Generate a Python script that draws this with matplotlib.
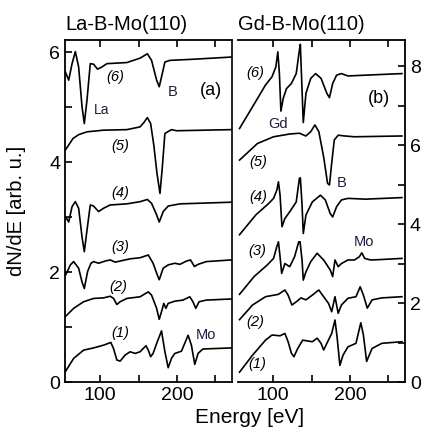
import matplotlib.pyplot as plt
from matplotlib.ticker import MultipleLocator

# La-B-Mo(110), curves (1)..(6): energy [eV], dN/dE [arb. u.]
la1_e = [54.5, 65.3, 78.3, 91.3, 104.3, 113.8, 117.3, 121.7, 126, 132.5, 139, 145.5, 152, 159.7,
         162.7, 165.8, 169, 174.4, 180, 184.4, 188.7, 193, 197.4, 206, 214.7, 219, 223.4, 227.7, 234, 271]
la1_y = [0.19, 0.43, 0.58, 0.62, 0.67, 0.72, 0.61, 0.40, 0.38, 0.49, 0.55, 0.52, 0.55, 0.66,
         0.58, 0.46, 0.52, 0.73, 0.93, 0.55, 0.26, 0.43, 0.52, 0.56, 0.85, 0.67, 0.32, 0.52, 0.60, 0.62]
la2_e = [54.5, 65.3, 78.3, 91.3, 104.3, 113, 117.3, 121.7, 126, 134.7, 152, 162.7, 167, 173.6, 177,
         180, 183, 185.7, 188.7, 197.4, 208, 216.9, 221, 224.7, 229, 238.5, 271]
la2_y = [1.19, 1.34, 1.46, 1.52, 1.53, 1.56, 1.52, 1.41, 1.46, 1.52, 1.55, 1.64, 1.58, 1.34, 1.14,
         1.28, 1.43, 1.34, 1.43, 1.47, 1.49, 1.55, 1.46, 1.34, 1.46, 1.49, 1.51]
la3_e = [55, 61, 65.3, 71.8, 76.2, 79.2, 83.5, 87.9, 91.3, 97.8, 106.5, 113, 119.5, 126, 139, 152,
         162.7, 169, 174.4, 177, 182.2, 188.7, 197.4, 204, 212.6, 217.8, 223, 227.7, 238.5, 271]
la3_y = [1.95, 2.13, 2.19, 2.07, 1.82, 1.70, 2.01, 2.16, 2.19, 2.16, 2.20, 2.22, 2.18, 2.20, 2.24, 2.26,
         2.31, 2.16, 1.95, 1.86, 2.07, 2.13, 2.16, 2.14, 2.20, 2.22, 2.10, 2.14, 2.19, 2.22]
la4_e = [55.8, 58.8, 63.2, 67.5, 71.8, 76.2, 79.2, 82.7, 87, 91.3, 97.8, 104.3, 113, 134.7, 152,
         161.5, 167, 173.6, 177, 182.2, 188.7, 204, 271]
la4_y = [2.98, 2.91, 3.19, 3.28, 3.16, 2.64, 2.37, 2.76, 3.22, 3.20, 3.10, 3.16, 3.22, 3.24, 3.28,
         3.32, 3.25, 3.04, 2.91, 3.10, 3.20, 3.24, 3.27]
la5_e = [54.5, 64.5, 72, 82.7, 104, 134.7, 152, 157, 161.5, 165.8, 170, 174, 178, 181, 184.4,
         193, 199.6, 271]
la5_y = [4.22, 4.43, 4.50, 4.55, 4.58, 4.59, 4.64, 4.72, 4.81, 4.70, 4.30, 3.80, 3.43, 3.90, 4.52,
         4.59, 4.57, 4.59]
la6_e = [54.5, 58.8, 63.2, 67.5, 71.8, 76.2, 79.2, 82.7, 87, 91.3, 96.5, 102.2, 108.7, 134.7, 152,
         161.5, 167, 173.6, 177, 180, 184.4, 191, 221, 271]
la6_y = [5.64, 5.49, 5.79, 6.01, 5.73, 5.01, 4.70, 5.13, 5.79, 5.78, 5.69, 5.73, 5.79, 5.81, 5.89,
         5.97, 5.85, 5.49, 5.37, 5.55, 5.82, 5.85, 5.87, 5.91]

# Gd-B-Mo(110), curves (1)..(6)
gd1_e = [56, 73, 89.9, 98.4, 108.9, 115.2, 119.4, 123.7, 127, 132, 138.4, 144.7, 151, 157.3, 162.4,
         165.8, 170, 176.3, 180.6, 183.5, 187, 191.1, 197.5, 208, 214.3, 217.7, 221.9, 229, 241.8, 268]
gd1_y = [0.25, 0.68, 1.06, 1.19, 1.17, 1.23, 1.02, 0.73, 0.64, 0.85, 1.06, 1.04, 1.02, 1.11, 0.98,
         0.81, 0.98, 1.23, 1.57, 1.11, 0.42, 0.68, 0.89, 0.98, 1.50, 1.19, 0.52, 0.85, 0.98, 1.02]
gd2_e = [56, 73, 89.9, 106.7, 115.2, 119.4, 124.4, 130, 136.3, 142.7, 151, 159.5, 165.8, 172.2,
         176.3, 180.6, 184.8, 189, 197.5, 208, 213.5, 217.7, 222.8, 229, 241.8, 268]
gd2_y = [1.58, 1.95, 2.16, 2.22, 2.33, 2.20, 1.95, 2.03, 2.13, 2.08, 2.20, 2.33, 2.16, 1.99,
         1.78, 2.16, 1.74, 1.95, 2.12, 2.16, 2.41, 2.20, 1.87, 2.08, 2.13, 2.16]
gd3_e = [56, 75, 92, 100.4, 104.7, 106.8, 108.9, 111, 115.2, 121.5, 127.8, 133.3, 135, 137.6, 139.2,
         142.7, 149, 157.3, 165.8, 174.3, 177.6, 180.6, 184.8, 189, 197.5, 206, 212.3, 215.6, 219.4,
         227, 239.6, 268]
gd3_y = [2.22, 2.67, 2.96, 3.13, 3.43, 3.55, 3.17, 2.75, 3.00, 2.92, 3.17, 3.55, 3.55, 3.09, 2.58,
         2.79, 3.05, 3.26, 3.09, 2.84, 2.67, 3.09, 2.92, 3.00, 3.09, 3.09, 3.17, 3.27, 3.13,
         3.09, 3.10, 3.13]
gd4_e = [56, 77.2, 94, 100.4, 104.7, 106.8, 108.9, 111.4, 115.2, 121.5, 130, 134.2, 135.4, 137.6,
         139.2, 142.7, 151, 161.6, 168, 174.3, 177.6, 182.7, 189, 197.5, 220.6, 268]
gd4_y = [3.73, 4.23, 4.52, 4.65, 4.86, 5.07, 4.73, 3.93, 4.14, 4.31, 4.56, 5.16, 5.17, 4.48,
         3.76, 4.23, 4.56, 4.73, 4.61, 4.27, 4.18, 4.44, 4.61, 4.65, 4.63, 4.67]
gd5_e = [56, 79.4, 100.4, 121.5, 134.2, 142.6, 149, 154.4, 159.5, 165.8, 170.9, 173.4, 176.3, 179.7,
         184.8, 193.3, 206, 268]
gd5_y = [5.62, 6.04, 6.21, 6.28, 6.30, 6.23, 6.34, 6.51, 6.34, 5.70, 5.03, 4.99, 5.54, 6.13,
         6.25, 6.23, 6.21, 6.23]
gd6_e = [56, 73, 89.9, 98.4, 103.4, 106, 108, 110, 113, 117.3, 123.7, 130, 134.2, 135.4, 137.6,
         139.2, 142.7, 149, 155.3, 162.4, 170, 173.4, 177.6, 182.7, 189, 197.5, 220.6, 268]
gd6_y = [6.42, 6.97, 7.52, 7.73, 7.98, 8.36, 7.82, 6.86, 7.18, 7.43, 7.56, 7.81, 8.41, 8.55, 7.39,
         6.57, 7.31, 7.69, 7.81, 7.69, 7.31, 7.20, 7.56, 7.77, 7.81, 7.75, 7.77, 7.81]

la_curves = [(la1_e, la1_y), (la2_e, la2_y), (la3_e, la3_y),
             (la4_e, la4_y), (la5_e, la5_y), (la6_e, la6_y)]
gd_curves = [(gd1_e, gd1_y), (gd2_e, gd2_y), (gd3_e, gd3_y),
             (gd4_e, gd4_y), (gd5_e, gd5_y), (gd6_e, gd6_y)]
curve_names = ["(1)", "(2)", "(3)", "(4)", "(5)", "(6)"]
la_name_pos = [(126, 0.89), (124, 1.73), (126, 2.46), (126, 3.43), (126, 4.29), (120, 5.55)]
gd_name_pos = [(79, 0.46), (77, 1.53), (79, 3.32), (81, 4.69), (81, 5.58), (77, 7.82)]

plt.rcParams["font.family"] = ["Liberation Sans", "DejaVu Sans"]
fig = plt.figure(figsize=(4.26, 4.34), dpi=100)
ax1 = fig.add_axes([0.1526, 0.1198, 0.392, 0.788])
ax2 = fig.add_axes([0.5587, 0.1198, 0.392, 0.788])

for e, y in la_curves:
    ax1.plot(e, y, color="black", lw=1.2)
for e, y in gd_curves:
    ax2.plot(e, y, color="black", lw=1.2)

for name, (x, y) in zip(curve_names, la_name_pos):
    ax1.text(x, y, name, style="italic", fontsize=10.5, ha="center", va="center")
for name, (x, y) in zip(curve_names, gd_name_pos):
    ax2.text(x, y, name, style="italic", fontsize=10.5, ha="center", va="center")

lab = "#1c1c40"
ax1.text(102, 4.95, "La", fontsize=10, color=lab, ha="center", va="center")
ax1.text(194, 5.27, "B", fontsize=10.5, color=lab, ha="center", va="center")
ax1.text(245, 5.31, "(a)", fontsize=13, ha="center", va="center")
ax1.text(238, 0.85, "Mo", fontsize=10.5, color=lab, ha="center", va="center")
ax2.text(106, 6.53, "Gd", fontsize=10.5, color=lab, ha="center", va="center")
ax2.text(189, 5.05, "B", fontsize=10.5, color=lab, ha="center", va="center")
ax2.text(238, 7.18, "(b)", fontsize=13, ha="center", va="center")
ax2.text(218, 3.55, "Mo", fontsize=10.5, color=lab, ha="center", va="center")

for ax in (ax1, ax2):
    ax.set_xlim(54, 272)
    ax.xaxis.set_major_locator(MultipleLocator(100))
    ax.xaxis.set_minor_locator(MultipleLocator(50))
    ax.yaxis.set_major_locator(MultipleLocator(2))
    ax.yaxis.set_minor_locator(MultipleLocator(1))
    ax.tick_params(which="both", direction="in", top=True, length=5, width=1.2, labelsize=14)
    for s in ax.spines.values():
        s.set_linewidth(1.3)

ax1.set_ylim(0, 6.22)
ax2.set_ylim(0, 8.66)
ax1.tick_params(which="both", right=False)
ax1.spines["right"].set_linestyle((0, (1, 1)))
ax1.spines["right"].set_linewidth(1.2)
ax2.spines["left"].set_visible(False)
ax2.tick_params(which="both", left=False, labelleft=False, right=True, labelright=True)

ax1.set_title("La-B-Mo(110)", fontsize=14.5, loc="left", pad=7)
ax2.set_title("Gd-B-Mo(110)", fontsize=14.5, loc="left", pad=7)
ax1.set_ylabel("dN/dE [arb. u.]", fontsize=14.5)
ax1.yaxis.set_label_coords(-0.235, 0.5)
fig.text(0.587, 0.015, "Energy [eV]", fontsize=15, ha="center", va="bottom")

fig.savefig("out.png", dpi=100)
